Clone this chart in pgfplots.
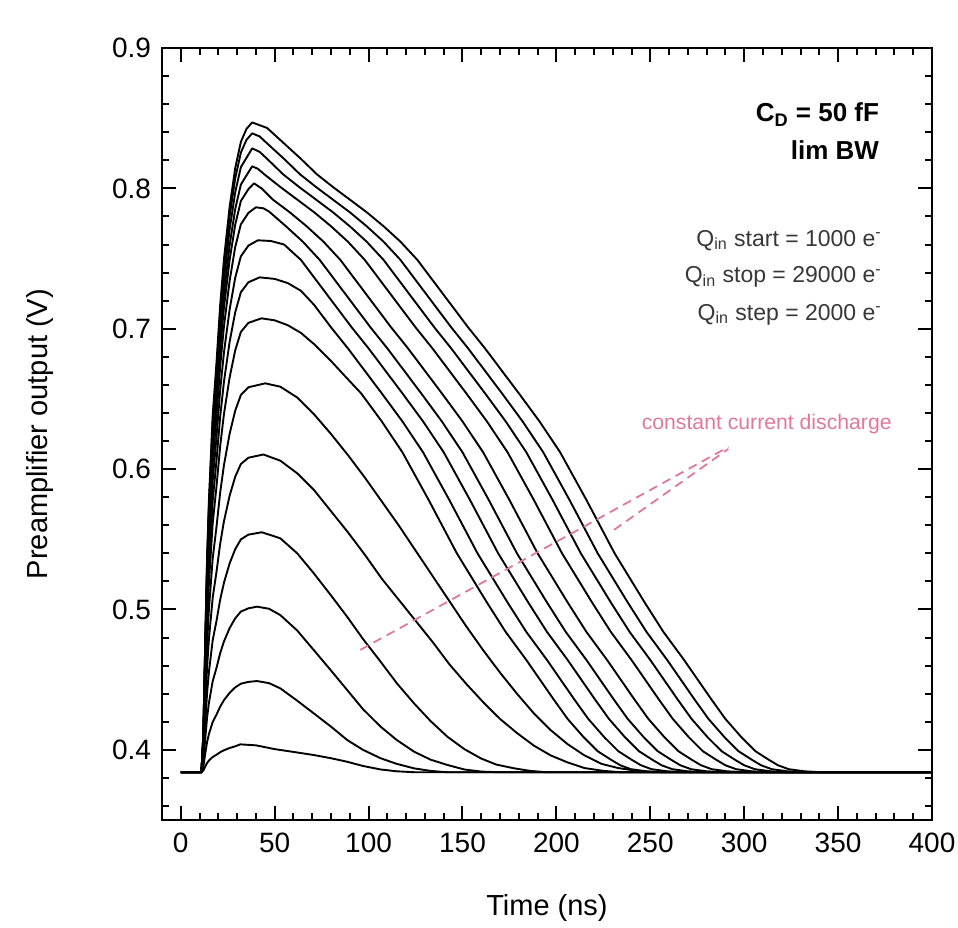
\documentclass[border=0pt]{standalone}
\usepackage{fontspec}
\setmainfont{Liberation Sans}
\usepackage{pgfplots}
\pgfplotsset{compat=1.18}
\definecolor{annot}{RGB}{226,120,152}
\definecolor{qgray}{RGB}{55,55,55}

\begin{document}
\begin{tikzpicture}
\begin{axis}[
  scale only axis, width=385pt, height=386pt,
  xmin=-10, xmax=400, ymin=0.35, ymax=0.9,
  xtick={0,50,100,150,200,250,300,350,400},
  ytick={0.4,0.5,0.6,0.7,0.8,0.9},
  minor x tick num=4,
  minor ytick={0.36,0.38,0.42,0.44,0.46,0.48,0.52,0.54,0.56,0.58,0.62,0.64,0.66,0.68,0.72,0.74,0.76,0.78,0.82,0.84,0.86,0.88},
  tick align=inside,
  major tick length=7pt, minor tick length=3.5pt,
  axis line style={line width=1.1pt},
  every tick/.style={black, line width=1pt},
  /pgf/number format/assume math mode=true,
  ticklabel style={font=\fontsize{14}{16}\selectfont},
  xticklabel style={yshift=-3pt},
  yticklabel style={xshift=-2pt, /pgf/number format/.cd, fixed, precision=1},
  xlabel={Time (ns)}, ylabel={Preamplifier output (V)},
  label style={font=\fontsize{14.5}{17}\selectfont},
  xlabel style={at={(axis description cs:0.5,-0.114)}, anchor=center},
  ylabel style={at={(axis description cs:-0.158,0.5)}, anchor=center},
  cycle list={black,solid,line width=0.95pt,line join=round,mark=none\\},
]
% Q_in = 1000 e-
\addplot coordinates {(0,0.384)(11,0.384)(12,0.3852)(13,0.3880)(14,0.3906)(15,0.3924)(17,0.3949)(19,0.3965)(21,0.3983)(23,0.3997)(26,0.4013)(29,0.4025)(31.7,0.4039)(40,0.4032)(50,0.4005)(60,0.3985)(70.8,0.3963)(80,0.394)(88.6,0.3915)(97,0.3885)(106.4,0.3860)(115,0.3847)(125,0.384)(400,0.384)};
% 3000
\addplot coordinates {(0,0.384)(11,0.384)(12,0.3879)(13,0.3970)(14,0.4055)(15,0.4113)(17,0.4198)(19,0.4250)(21,0.4308)(23,0.4354)(26,0.4406)(29,0.4445)(32,0.4471)(36,0.4484)(40.6,0.449)(47,0.4475)(53,0.4438)(62,0.435)(70.8,0.426)(80,0.4165)(88.6,0.407)(97,0.400)(106.4,0.394)(115,0.390)(124.2,0.3868)(133,0.385)(142,0.384)(400,0.384)};
% 5000
\addplot coordinates {(0,0.384)(11,0.384)(12,0.3911)(13,0.4076)(14,0.4229)(15,0.4336)(17,0.4489)(19,0.4583)(21,0.4690)(23,0.4772)(26,0.4867)(29,0.4937)(32,0.4985)(36,0.5008)(40.6,0.502)(47,0.5005)(53,0.496)(62,0.485)(70.8,0.4711)(80,0.4565)(88.6,0.4426)(97,0.429)(106.4,0.4165)(115,0.407)(124.2,0.3987)(133,0.393)(142,0.3892)(151,0.386)(160,0.3845)(170,0.384)(400,0.384)};
% 7000
\addplot coordinates {(0,0.384)(11,0.384)(12,0.3943)(13,0.4182)(14,0.4404)(15,0.4558)(17,0.4781)(19,0.4917)(21,0.5071)(23,0.5191)(26,0.5328)(29,0.5430)(32,0.5499)(36,0.5533)(43.2,0.555)(53,0.5507)(62,0.540)(70.8,0.5258)(80,0.510)(88.6,0.4948)(97,0.479)(106.4,0.4628)(115,0.4475)(124.2,0.4331)(133,0.4205)(142,0.4093)(151,0.4005)(159.8,0.3939)(168,0.3895)(177.6,0.3868)(186,0.385)(195,0.384)(400,0.384)};
% 9000
\addplot coordinates {(0,0.384)(11,0.384)(12,0.3976)(13,0.4293)(14,0.4587)(15,0.4791)(17,0.5085)(19,0.5266)(21,0.5470)(23,0.5629)(26,0.5810)(29,0.5946)(32,0.6036)(36,0.6081)(44,0.6104)(53,0.606)(62,0.597)(71,0.585)(80,0.570)(89,0.555)(98,0.539)(107,0.522)(116,0.507)(125,0.492)(134,0.477)(143,0.461)(152,0.447)(161,0.434)(170,0.422)(179,0.412)(188,0.403)(197,0.396)(206,0.391)(215,0.387)(225,0.385)(235,0.384)(400,0.384)};
% 11000
\addplot coordinates {(0,0.384)(11,0.384)(12,0.4006)(13,0.4394)(14,0.4754)(15,0.5004)(17,0.5364)(19,0.5586)(21,0.5835)(23,0.6029)(26,0.6251)(29,0.6417)(32,0.6528)(36,0.6583)(45,0.6611)(53,0.6587)(62,0.651)(71,0.639)(80,0.625)(89,0.610)(98,0.594)(107,0.577)(116,0.560)(125,0.542)(134,0.524)(143,0.506)(152,0.488)(161,0.471)(170,0.455)(179,0.440)(188,0.426)(197,0.414)(206,0.404)(215,0.396)(224,0.390)(233,0.387)(243,0.385)(253,0.384)(400,0.384)};
% 13000
\addplot coordinates {(0,0.384)(11,0.384)(12,0.4025)(13,0.4479)(14,0.4901)(15,0.5192)(17,0.5614)(19,0.5874)(21,0.6166)(23,0.6393)(26,0.6652)(29,0.6847)(32,0.6977)(36,0.7042)(43,0.7074)(50,0.706)(57,0.7025)(64,0.697)(71,0.689)(80,0.677)(89,0.664)(96,0.654)(107,0.634)(118,0.612)(132,0.578)(147,0.540)(163,0.505)(173,0.484)(184,0.464)(198.5,0.436)(206,0.422)(214.5,0.409)(222,0.399)(229,0.393)(234,0.389)(239.7,0.3862)(248,0.3847)(258,0.384)(400,0.384)};
% 15000
\addplot coordinates {(0,0.384)(11,0.384)(12,0.4042)(13,0.4537)(14,0.4997)(15,0.5315)(17,0.5775)(19,0.6058)(21,0.6376)(23,0.6623)(26,0.6906)(29,0.7118)(32,0.7260)(36,0.7331)(42,0.7366)(50,0.7355)(57,0.7325)(64,0.727)(71,0.717)(80,0.701)(89,0.686)(98,0.670)(107,0.654)(118,0.634)(129,0.612)(143,0.578)(158,0.540)(174,0.505)(184,0.484)(195,0.464)(209.5,0.436)(217,0.422)(225.5,0.409)(233,0.399)(240,0.393)(245,0.389)(250.7,0.3862)(259,0.3847)(269,0.384)(400,0.384)};
% 17000
\addplot coordinates {(0,0.384)(11,0.384)(12,0.4058)(13,0.4590)(14,0.5084)(15,0.5426)(17,0.5920)(19,0.6224)(21,0.6566)(23,0.6832)(26,0.7136)(29,0.7364)(32,0.7516)(36,0.7592)(41,0.763)(48,0.7625)(55,0.760)(64,0.749)(73,0.733)(82,0.717)(91,0.701)(100,0.686)(109,0.670)(118,0.654)(129,0.634)(140,0.612)(154,0.578)(169,0.540)(185,0.505)(195,0.484)(206,0.464)(220.5,0.436)(228,0.422)(236.5,0.409)(244,0.399)(251,0.393)(256,0.389)(261.7,0.3862)(270,0.3847)(280,0.384)(400,0.384)};
% 19000
\addplot coordinates {(0,0.384)(11,0.384)(12,0.4072)(13,0.4637)(14,0.5162)(15,0.5525)(17,0.6049)(19,0.6372)(21,0.6735)(23,0.7018)(26,0.7340)(29,0.7583)(32,0.7744)(36,0.7825)(40,0.7865)(44,0.7858)(47,0.7835)(56,0.773)(65,0.762)(74,0.749)(83,0.733)(92,0.717)(101,0.701)(110,0.686)(119,0.670)(128,0.654)(139,0.634)(150,0.612)(164,0.578)(179,0.540)(195,0.505)(205,0.484)(216,0.464)(230.5,0.436)(238,0.422)(246.5,0.409)(254,0.399)(261,0.393)(266,0.389)(271.7,0.3862)(280,0.3847)(290,0.384)(400,0.384)};
% 21000
\addplot coordinates {(0,0.384)(11,0.384)(12,0.4082)(13,0.4671)(14,0.5218)(15,0.5597)(17,0.6143)(19,0.6480)(21,0.6858)(23,0.7153)(26,0.7489)(29,0.7742)(32,0.7910)(36,0.7994)(39,0.8036)(43,0.800)(49,0.792)(58,0.783)(67,0.773)(76,0.762)(85,0.749)(94,0.733)(103,0.717)(112,0.701)(121,0.686)(130,0.670)(139,0.654)(150,0.634)(161,0.612)(175,0.578)(190,0.540)(206,0.505)(216,0.484)(227,0.464)(241.5,0.436)(249,0.422)(257.5,0.409)(265,0.399)(272,0.393)(277,0.389)(282.7,0.3862)(291,0.3847)(301,0.384)(400,0.384)};
% 23000
\addplot coordinates {(0,0.384)(11,0.384)(12,0.4090)(13,0.4695)(14,0.5258)(15,0.5647)(17,0.6210)(19,0.6556)(21,0.6945)(23,0.7248)(26,0.7594)(29,0.7854)(32,0.8027)(36,0.8114)(38,0.8157)(41,0.814)(44.5,0.810)(53,0.801)(62,0.792)(71,0.783)(80,0.773)(89,0.762)(98,0.749)(107,0.733)(116,0.717)(125,0.701)(134,0.686)(143,0.670)(152,0.654)(163,0.634)(174,0.612)(188,0.578)(203,0.540)(219,0.505)(229,0.484)(240,0.464)(254.5,0.436)(262,0.422)(270.5,0.409)(278,0.399)(285,0.393)(290,0.389)(295.7,0.3862)(304,0.3847)(314,0.384)(400,0.384)};
% 25000
\addplot coordinates {(0,0.384)(11,0.384)(12,0.4097)(13,0.4721)(14,0.5300)(15,0.5701)(17,0.6280)(19,0.6637)(21,0.7038)(23,0.7349)(26,0.7706)(29,0.7973)(32,0.8151)(36,0.8240)(38,0.8285)(42,0.826)(46,0.821)(54.5,0.810)(63,0.801)(72,0.792)(81,0.783)(90,0.773)(99,0.762)(108,0.749)(117,0.733)(126,0.717)(135,0.701)(144,0.686)(153,0.670)(162,0.654)(173,0.634)(184,0.612)(198,0.578)(213,0.540)(229,0.505)(239,0.484)(250,0.464)(264.5,0.436)(272,0.422)(280.5,0.409)(288,0.399)(295,0.393)(300,0.389)(305.7,0.3862)(314,0.3847)(324,0.384)(400,0.384)};
% 27000
\addplot coordinates {(0,0.384)(11,0.384)(12,0.4104)(13,0.4742)(14,0.5335)(15,0.5746)(17,0.6339)(19,0.6704)(21,0.7115)(23,0.7434)(26,0.7799)(29,0.8073)(32,0.8255)(35,0.8346)(38,0.8392)(42,0.837)(46,0.832)(55,0.821)(63.5,0.810)(72,0.801)(81,0.792)(90,0.783)(99,0.773)(108,0.762)(117,0.749)(126,0.733)(135,0.717)(144,0.701)(153,0.686)(162,0.670)(171,0.654)(182,0.634)(193,0.612)(207,0.578)(222,0.540)(238,0.505)(248,0.484)(259,0.464)(273.5,0.436)(281,0.422)(289.5,0.409)(297,0.399)(304,0.393)(309,0.389)(314.7,0.3862)(323,0.3847)(333,0.384)(400,0.384)};
% 29000
\addplot coordinates {(0,0.384)(11,0.384)(12,0.4108)(13,0.4758)(14,0.5361)(15,0.5779)(17,0.6382)(19,0.6753)(21,0.7171)(23,0.7496)(26,0.7867)(29,0.8145)(32,0.8331)(35,0.8424)(38,0.847)(46,0.843)(55,0.832)(64,0.821)(72.5,0.810)(81,0.801)(90,0.792)(99,0.783)(108,0.773)(117,0.762)(126,0.749)(135,0.733)(144,0.717)(153,0.701)(162,0.686)(171,0.670)(180,0.654)(191,0.634)(202,0.612)(216,0.578)(231,0.540)(247,0.505)(257,0.484)(268,0.464)(282.5,0.436)(290,0.422)(298.5,0.409)(306,0.399)(313,0.393)(318,0.389)(323.7,0.3862)(332,0.3847)(342,0.384)(400,0.384)};

% annotation
\draw[annot, line width=0.9pt, dash pattern=on 4.5pt off 3pt] (95.6,0.4712) -- (291.6,0.6158);
\draw[annot, line width=0.9pt, dash pattern=on 4.5pt off 3pt] (230.7,0.5567) -- (291.6,0.6144);
\node[text=annot, font=\fontsize{10.6}{13}\selectfont] at (312,0.6321) {constant current discharge};

\node[anchor=base east, inner sep=0pt, font=\fontsize{13}{15}\selectfont\bfseries] at (372,0.8473) {C\textsubscript{D} = 50 fF};
\node[anchor=base east, inner sep=0pt, font=\fontsize{13}{15}\selectfont\bfseries] at (372,0.8209) {lim BW};
\node[anchor=base east, inner sep=0pt, text=qgray, font=\fontsize{11.5}{14}\selectfont] at (373.5,0.7589) {Q\textsubscript{in} start = 1000 e\textsuperscript{-}};
\node[anchor=base east, inner sep=0pt, text=qgray, font=\fontsize{11.5}{14}\selectfont] at (373.5,0.7326) {Q\textsubscript{in} stop = 29000 e\textsuperscript{-}};
\node[anchor=base east, inner sep=0pt, text=qgray, font=\fontsize{11.5}{14}\selectfont] at (373.5,0.7062) {Q\textsubscript{in} step = 2000 e\textsuperscript{-}};

\coordinate (sw) at (rel axis cs:0,0);
\end{axis}
\pgfresetboundingbox
\path (sw) ++(-81pt,-53.5pt) rectangle ++(479pt,463.5pt);
\end{tikzpicture}
\end{document}
